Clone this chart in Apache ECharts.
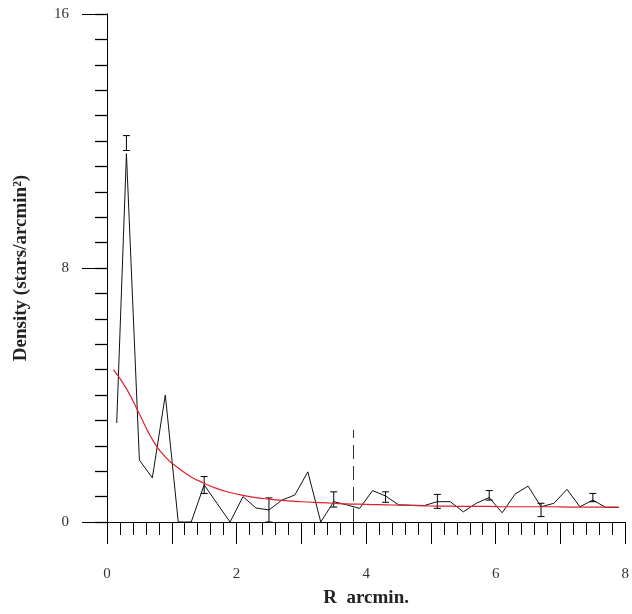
<!DOCTYPE html>
<html>
<head>
<meta charset="utf-8">
<script src="https://cdn.jsdelivr.net/npm/echarts@6/dist/echarts.min.js"></script>
<style>
    body { margin: 0; background: #fff; }
    #main { width: 632px; height: 614px; }
</style>
</head>
<body>
<div id="main"></div>
<script>
// observed density profile (black)
let rObs = [0.15, 0.3, 0.5, 0.7, 0.9, 1.1, 1.3, 1.5, 1.7, 1.9,
    2.1, 2.3, 2.5, 2.7, 2.9, 3.1, 3.3, 3.5, 3.7, 3.9,
    4.1, 4.3, 4.5, 4.7, 4.9, 5.1, 5.3, 5.5, 5.7, 5.9,
    6.1, 6.3, 6.5, 6.7, 6.9, 7.1, 7.3, 7.5, 7.7, 7.9];
let densObs = [3.12, 11.6, 1.95, 1.39, 4.0, 0, 0, 1.17, 0.58, 0,
    0.8, 0.44, 0.38, 0.69, 0.85, 1.58, 0, 0.64, 0.54, 0.43,
    0.99, 0.82, 0.54, 0.53, 0.52, 0.64, 0.64, 0.32, 0.59, 0.77,
    0.29, 0.88, 1.13, 0.48, 0.59, 1.03, 0.48, 0.69, 0.46, 0.46];

// fitted profile (red)
let rFit = [0.1, 0.3, 0.5, 0.7, 0.9, 1.1, 1.3, 1.5, 1.7, 1.9,
    2.1, 2.3, 2.5, 2.7, 2.9, 3.1, 3.3, 3.5, 3.7, 3.9,
    4.1, 4.3, 4.5, 4.7, 4.9, 5.1, 5.3, 5.5, 5.7, 5.9,
    6.1, 6.3, 6.5, 6.7, 6.9, 7.1, 7.3, 7.5, 7.7, 7.9];
let densFit = [4.8, 4.2, 3.4, 2.6, 2.05, 1.7, 1.42, 1.22, 1.05, 0.93,
    0.84, 0.77, 0.72, 0.68, 0.65, 0.63, 0.61, 0.59, 0.57, 0.56,
    0.55, 0.54, 0.53, 0.52, 0.51, 0.5, 0.5, 0.49, 0.49, 0.49,
    0.48, 0.48, 0.48, 0.48, 0.48, 0.47, 0.47, 0.47, 0.47, 0.47];

// error bars
let rErr = [0.3, 1.5, 2.5, 3.5, 4.3, 5.1, 5.9, 6.7, 7.5];
let errLow = [11.7, 0.9, 0, 0.47, 0.62, 0.43, 0.69, 0.17, 0.64];
let errHigh = [12.17, 1.43, 0.76, 0.95, 0.95, 0.87, 0.99, 0.59, 0.9];

// dashed core radius marker
let rCore = 3.8;
let coreTop = 2.9;

window.addEventListener('load', function () {
    var chart = echarts.init(document.getElementById('main'));

    let obs = rObs.map((r, i) => [r, densObs[i]]);
    let fit = rFit.map((r, i) => [r, densFit[i]]);
    let errs = rErr.map((r, i) => [r, errLow[i], errHigh[i]]);

    let font = 'Liberation Serif';
    let black = { color: '#000', width: 1 };

    let option = {
        backgroundColor: '#fff',
        animation: false,
        grid: { left: 107, right: 4, top: 14, bottom: 92 },
        xAxis: {
            type: 'value',
            min: 0,
            max: 8,
            interval: 1,
            name: 'R  arcmin.',
            nameLocation: 'middle',
            nameGap: 67,
            nameTextStyle: { fontFamily: font, fontSize: 19, fontWeight: 'bold', color: '#222' },
            axisLine: { lineStyle: black },
            axisTick: { length: 22, lineStyle: black },
            minorTick: { show: true, splitNumber: 5, length: 13, lineStyle: black },
            axisLabel: {
                margin: 45,
                fontFamily: font,
                fontSize: 15,
                color: '#333',
                formatter: v => (v % 2 === 0 ? String(v) : '')
            },
            splitLine: { show: false }
        },
        yAxis: [
            {
                // short ticks every 0.8
                type: 'value',
                min: 0,
                max: 16,
                interval: 0.8,
                axisLine: { show: true, lineStyle: black },
                axisTick: { show: true, length: 12, lineStyle: { color: '#000', width: 1.3 } },
                axisLabel: { show: false },
                splitLine: { show: false }
            },
            {
                // long ticks and labels at 0, 8, 16
                type: 'value',
                position: 'left',
                min: 0,
                max: 16,
                interval: 8,
                name: 'Density (stars/arcmin²)',
                nameLocation: 'middle',
                nameGap: 76,
                nameTextStyle: { fontFamily: font, fontSize: 19, fontWeight: 'bold', color: '#222' },
                axisLine: { show: true, lineStyle: black },
                axisTick: { show: true, length: 25, lineStyle: black },
                axisLabel: { margin: 38, fontFamily: font, fontSize: 15, color: '#333' },
                splitLine: { show: false }
            }
        ],
        series: [
            {
                name: 'observed',
                type: 'line',
                data: obs,
                showSymbol: false,
                lineStyle: { color: '#111', width: 1 },
                z: 2,
                markLine: {
                    silent: true,
                    symbol: 'none',
                    label: { show: false },
                    lineStyle: { color: '#333', width: 1, type: [14, 7] },
                    data: [[{ coord: [rCore, 0] }, { coord: [rCore, coreTop] }]]
                }
            },
            {
                name: 'errors',
                type: 'custom',
                data: errs,
                z: 3,
                renderItem: function (params, api) {
                    let x = api.value(0);
                    let top = api.coord([x, api.value(2)]);
                    let bot = api.coord([x, api.value(1)]);
                    let w = 3.5;
                    let st = { stroke: '#000', lineWidth: 1 };
                    return {
                        type: 'group',
                        children: [
                            { type: 'line', shape: { x1: top[0], y1: top[1], x2: bot[0], y2: bot[1] }, style: st },
                            { type: 'line', shape: { x1: top[0] - w, y1: top[1], x2: top[0] + w, y2: top[1] }, style: st },
                            { type: 'line', shape: { x1: bot[0] - w, y1: bot[1], x2: bot[0] + w, y2: bot[1] }, style: st }
                        ]
                    };
                }
            },
            {
                name: 'fit',
                type: 'line',
                data: fit,
                smooth: true,
                showSymbol: false,
                lineStyle: { color: '#e0202a', width: 1.2 },
                z: 4
            }
        ]
    };
    chart.setOption(option);
});
</script>
</body>
</html>
